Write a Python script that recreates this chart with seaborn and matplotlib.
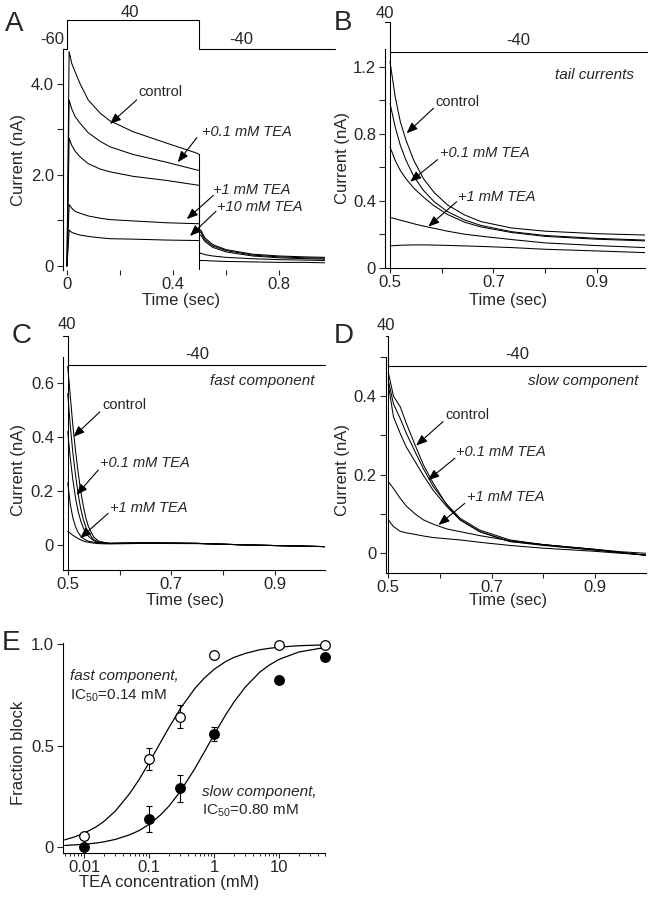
import numpy as np
import matplotlib
matplotlib.use("Agg")
import matplotlib.pyplot as plt
import matplotlib.transforms as mtransforms
from matplotlib.ticker import LogLocator, NullFormatter
import seaborn as sns

sns.set_style("ticks")
plt.rcParams["font.family"] = ["Liberation Sans", "DejaVu Sans"]
plt.rcParams["mathtext.fontset"] = "custom"
plt.rcParams["mathtext.rm"] = "Liberation Sans"

# ---------------- data ----------------
pulse_start = 0.0
pulse_end = 0.5
conditions = ["control", "+0.1 mM TEA", "+0.3 mM TEA", "+1 mM TEA", "+10 mM TEA"]

# A: currents during the +40 mV step (nA)
A_step_t = [0.0, 0.008, 0.018, 0.031, 0.049, 0.08, 0.125, 0.162, 0.25, 0.376, 0.49, 0.5]
A_step = {
    "control":     [0, 4.71, 4.45, 4.26, 4.01, 3.65, 3.36, 3.19, 2.95, 2.70, 2.48, 2.45],
    "+0.1 mM TEA": [0, 3.65, 3.45, 3.28, 3.14, 2.93, 2.74, 2.62, 2.45, 2.28, 2.11, 2.10],
    "+0.3 mM TEA": [0, 2.81, 2.65, 2.52, 2.40, 2.25, 2.13, 2.07, 1.97, 1.88, 1.78, 1.77],
    "+1 mM TEA":   [0, 1.35, 1.27, 1.20, 1.16, 1.10, 1.05, 1.02, 0.99, 0.95, 0.93, 0.93],
    "+10 mM TEA":  [0, 0.79, 0.74, 0.71, 0.68, 0.65, 0.62, 0.60, 0.59, 0.57, 0.56, 0.56],
}
# A: tail currents at -40 mV (nA)
A_tail_t = [0.5, 0.505, 0.52, 0.55, 0.6, 0.7, 0.8, 0.9, 0.975]
A_tail = {
    "control":     [0.79, 0.79, 0.62, 0.47, 0.36, 0.26, 0.22, 0.20, 0.19],
    "+0.1 mM TEA": [0.74, 0.74, 0.58, 0.44, 0.34, 0.24, 0.20, 0.18, 0.17],
    "+0.3 mM TEA": [0.68, 0.68, 0.54, 0.41, 0.31, 0.22, 0.18, 0.16, 0.15],
    "+1 mM TEA":   [0.28, 0.28, 0.25, 0.22, 0.19, 0.16, 0.14, 0.13, 0.12],
    "+10 mM TEA":  [0.12, 0.12, 0.12, 0.11, 0.10, 0.09, 0.08, 0.08, 0.07],
}

# B: tail currents, expanded
B_t = [0.5, 0.51, 0.52, 0.531, 0.546, 0.565, 0.585, 0.611, 0.644, 0.676, 0.735, 0.8, 0.9, 0.993]
B_tail = {
    "control":     [1.23, 1.02, 0.87, 0.76, 0.64, 0.53, 0.45, 0.375, 0.315, 0.275, 0.237, 0.218, 0.203, 0.195],
    "+0.1 mM TEA": [0.98, 0.84, 0.73, 0.64, 0.545, 0.46, 0.395, 0.335, 0.285, 0.252, 0.215, 0.192, 0.175, 0.165],
    "+0.3 mM TEA": [0.72, 0.64, 0.58, 0.53, 0.475, 0.42, 0.37, 0.318, 0.272, 0.243, 0.21, 0.187, 0.17, 0.16],
    "+1 mM TEA":   [0.30, 0.292, 0.283, 0.275, 0.262, 0.248, 0.235, 0.218, 0.20, 0.188, 0.168, 0.148, 0.132, 0.12],
    "+10 mM TEA":  [0.13, 0.132, 0.134, 0.135, 0.136, 0.136, 0.135, 0.133, 0.13, 0.127, 0.12, 0.11, 0.10, 0.09],
}

# C: fast component
C_t = [0.5, 0.505, 0.51, 0.515, 0.52, 0.525, 0.53, 0.535, 0.54, 0.55, 0.56, 0.58, 0.65, 0.75, 0.85, 0.95, 0.997]
C_fast = {
    "control":     [0.66, 0.55, 0.44, 0.35, 0.27, 0.20, 0.145, 0.10, 0.068, 0.03, 0.014, 0.006, 0.008, 0.006, 0.0, -0.004, -0.006],
    "+0.1 mM TEA": [0.56, 0.44, 0.34, 0.26, 0.19, 0.135, 0.095, 0.066, 0.045, 0.02, 0.01, 0.006, 0.008, 0.006, 0.0, -0.004, -0.006],
    "+0.3 mM TEA": [0.42, 0.32, 0.24, 0.175, 0.125, 0.09, 0.064, 0.045, 0.032, 0.016, 0.009, 0.006, 0.008, 0.006, 0.0, -0.004, -0.006],
    "+1 mM TEA":   [0.23, 0.15, 0.10, 0.068, 0.047, 0.033, 0.024, 0.018, 0.014, 0.01, 0.008, 0.006, 0.008, 0.006, 0.0, -0.004, -0.006],
    "+10 mM TEA":  [0.05, 0.043, 0.036, 0.03, 0.024, 0.019, 0.015, 0.012, 0.01, 0.007, 0.005, 0.004, 0.006, 0.005, 0.0, -0.004, -0.006],
}

# D: slow component
D_t = [0.5, 0.51, 0.523, 0.535, 0.552, 0.568, 0.587, 0.613, 0.639, 0.677, 0.735, 0.8, 0.85, 0.9, 0.95, 0.998]
D_slow = {
    "control":     [0.46, 0.40, 0.373, 0.33, 0.275, 0.225, 0.178, 0.123, 0.085, 0.055, 0.03, 0.022, 0.016, 0.01, 0.002, -0.005],
    "+0.1 mM TEA": [0.44, 0.38, 0.343, 0.305, 0.258, 0.215, 0.17, 0.125, 0.089, 0.059, 0.034, 0.022, 0.015, 0.009, 0.002, -0.005],
    "+0.3 mM TEA": [0.43, 0.347, 0.305, 0.27, 0.233, 0.198, 0.16, 0.119, 0.085, 0.055, 0.03, 0.02, 0.014, 0.008, 0.002, -0.005],
    "+1 mM TEA":   [0.182, 0.165, 0.14, 0.12, 0.10, 0.085, 0.074, 0.062, 0.055, 0.045, 0.032, 0.022, 0.016, 0.01, 0.004, 0.0],
    "+10 mM TEA":  [0.085, 0.068, 0.056, 0.052, 0.048, 0.044, 0.04, 0.037, 0.034, 0.028, 0.02, 0.013, 0.009, 0.005, 0.0, -0.004],
}

# E: dose-response
tea_mM = [0.01, 0.1, 0.3, 1, 10, 50]
fast_block = [0.053, 0.432, 0.643, 0.947, 0.997, 0.997]
fast_err = [0.0, 0.055, 0.055, 0.02, 0.0, 0.0]
slow_block = [0.0, 0.137, 0.288, 0.555, 0.824, 0.936]
slow_err = [0.0, 0.063, 0.066, 0.035, 0.0, 0.0]
fit_x = [0.005, 0.007, 0.01, 0.015, 0.02, 0.03, 0.05, 0.07, 0.1, 0.15, 0.2, 0.3,
         0.5, 0.7, 1, 1.5, 2, 3, 5, 7, 10, 20, 50]
fit_fast = [0.034, 0.048, 0.067, 0.097, 0.125, 0.176, 0.263, 0.333, 0.417, 0.517, 0.588, 0.682,
            0.781, 0.833, 0.877, 0.915, 0.935, 0.955, 0.973, 0.980, 0.986, 0.993, 0.997]
fit_slow = [0.006, 0.009, 0.012, 0.018, 0.024, 0.036, 0.059, 0.080, 0.111, 0.158, 0.200, 0.273,
            0.385, 0.467, 0.556, 0.652, 0.714, 0.789, 0.862, 0.897, 0.926, 0.962, 0.984]

# ---------------- figure ----------------
W, H = 656, 900
fig = plt.figure(figsize=(W / 100, H / 100), dpi=100)


def box(l, r, t, b):
    return [l / W, 1 - b / H, (r - l) / W, (b - t) / H]


def fpx(x, y):
    return x / W, 1 - y / H


LW = 0.75
TICK_FS = 12
LAB_FS = 12
ANN_FS = 10.5

axA = fig.add_axes(box(63, 325, 49, 270))
axB = fig.add_axes(box(385, 645, 49, 268.3))
axC = fig.add_axes(box(63, 325, 356.7, 570))
axD = fig.add_axes(box(385.7, 646, 356.7, 573.3))
axE = fig.add_axes(box(63, 325, 643, 852.7))

for ax in [axA, axB, axC, axD, axE]:
    sns.despine(ax=ax)
    ax.tick_params(axis="y", direction="out", length=4.5, width=0.8, pad=2.0, labelsize=TICK_FS)
    ax.tick_params(axis="x", direction="out", length=3.5, width=0.8, pad=1.5, labelsize=TICK_FS)
    for s in ["left", "bottom"]:
        ax.spines[s].set_linewidth(0.8)
        ax.spines[s].set_color("k")
    ax.set_facecolor("none")


def trace(ax, t, y):
    sns.lineplot(x=np.asarray(t, float), y=np.asarray(y, float), ax=ax, color="k",
                 lw=LW, estimator=None, sort=False, legend=False)


def arrow(ax, start, tip):
    ax.annotate("", xy=tip, xytext=start,
                arrowprops=dict(arrowstyle="-|>,head_length=0.55,head_width=0.22",
                                color="k", lw=0.8, shrinkA=0, shrinkB=0,
                                mutation_scale=12), annotation_clip=False)


def protocol(ax, xs, ys):
    tr = mtransforms.blended_transform_factory(ax.transData, ax.transAxes)
    ax.plot(xs, ys, color="k", lw=0.8, transform=tr, clip_on=False)


def ptext(ax, x, y, s, **kw):
    tr = mtransforms.blended_transform_factory(ax.transData, ax.transAxes)
    ax.text(x, y, s, transform=tr, ha="center", va="center", fontsize=12, **kw)


# ---- A ----
for c in conditions:
    trace(axA, A_step_t + A_tail_t, A_step[c] + A_tail[c])
axA.vlines(pulse_end, -0.088, A_step["control"][-1], color="k", lw=LW)
axA.set_xlim(-0.0151, 0.9736)
axA.set_ylim(-0.088, 4.769)
axA.spines["bottom"].set_visible(False)
axA.set_xticks([0, 0.2, 0.4, 0.6, 0.8])
axA.set_xticklabels(["0", "", "0.4", "", "0.8"])
axA.set_yticks([0, 1, 2, 3, 4])
axA.set_yticklabels(["0", "", "2.0", "", "4.0"])
protocol(axA, [-0.0151, pulse_start, pulse_start, pulse_end, pulse_end, 1.011],
         [1.0, 1.0, 1.129, 1.129, 1.0, 1.0])
ptext(axA, 0.238, 1.167, "40")
ptext(axA, -0.057, 1.045, "-60")
ptext(axA, 0.657, 1.045, "-40")
axA.text(0.268, 3.83, "control", fontsize=ANN_FS, va="center")
arrow(axA, (0.263, 3.65), (0.162, 3.12))
axA.text(0.508, 2.95, "+0.1 mM TEA", fontsize=ANN_FS, va="center", style="italic")
arrow(axA, (0.49, 2.82), (0.418, 2.28))
axA.text(0.551, 1.67, "+1 mM TEA", fontsize=ANN_FS, va="center", style="italic")
arrow(axA, (0.552, 1.55), (0.452, 1.03))
axA.text(0.565, 1.30, "+10 mM TEA", fontsize=ANN_FS, va="center", style="italic")
arrow(axA, (0.562, 1.20), (0.464, 0.66))

# ---- B ----
for c in conditions:
    trace(axB, B_t, B_tail[c])
axB.axvline(pulse_end, color="k", lw=LW)
axB.set_xlim(0.4903, 0.9932)
axB.set_ylim(-0.0036, 1.305)
axB.set_xticks([0.5, 0.6, 0.7, 0.8, 0.9])
axB.set_xticklabels(["0.5", "", "0.7", "", "0.9"])
axB.set_yticks([0, 0.2, 0.4, 0.6, 0.8, 1.0, 1.2])
axB.set_yticklabels(["0", "", "0.4", "", "0.8", "", "1.2"])
protocol(axB, [0.4903, pulse_end, pulse_end, 0.9965], [1.125, 1.125, 0.988, 0.988])
ptext(axB, 0.490, 1.16, "40")
ptext(axB, 0.748, 1.041, "-40")
axB.text(0.971, 1.15, "tail currents", fontsize=11, va="center", ha="right", style="italic")
axB.text(0.587, 0.991, "control", fontsize=ANN_FS, va="center")
arrow(axB, (0.584, 0.951), (0.532, 0.802))
axB.text(0.597, 0.683, "+0.1 mM TEA", fontsize=ANN_FS, va="center", style="italic")
arrow(axB, (0.592, 0.645), (0.539, 0.513))
axB.text(0.632, 0.424, "+1 mM TEA", fontsize=ANN_FS, va="center", style="italic")
arrow(axB, (0.629, 0.394), (0.574, 0.245))

# ---- C ----
for c in conditions:
    trace(axC, C_t, C_fast[c])
axC.axvline(pulse_end, color="k", lw=LW)
axC.set_xlim(0.4909, 0.9967)
axC.set_ylim(-0.0924, 0.696)
axC.set_xticks([0.5, 0.6, 0.7, 0.8, 0.9])
axC.set_xticklabels(["0.5", "", "0.7", "", "0.9"])
axC.set_yticks([0, 0.2, 0.4, 0.6])
axC.set_yticklabels(["0", "0.2", "0.4", "0.6"])
protocol(axC, [0.4909, pulse_end, pulse_end, 0.9967], [1.097, 1.097, 0.961, 0.961])
ptext(axC, 0.4987, 1.149, "40")
ptext(axC, 0.75, 1.008, "-40")
axC.text(0.977, 0.607, "fast component", fontsize=11, va="center", ha="right", style="italic")
axC.text(0.566, 0.517, "control", fontsize=ANN_FS, va="center")
arrow(axC, (0.562, 0.492), (0.511, 0.40))
axC.text(0.562, 0.302, "+0.1 mM TEA", fontsize=ANN_FS, va="center", style="italic")
arrow(axC, (0.559, 0.277), (0.517, 0.185))
axC.text(0.582, 0.135, "+1 mM TEA", fontsize=ANN_FS, va="center", style="italic")
arrow(axC, (0.578, 0.117), (0.524, 0.025))

# ---- D ----
for c in conditions:
    trace(axD, D_t, D_slow[c])
axD.axvline(pulse_end, color="k", lw=LW)
axD.set_xlim(0.4950, 0.9988)
axD.set_ylim(-0.0509, 0.50)
axD.set_xticks([0.5, 0.6, 0.7, 0.8, 0.9])
axD.set_xticklabels(["0.5", "", "0.7", "", "0.9"])
axD.set_yticks([0, 0.1, 0.2, 0.3, 0.4, 0.5])
axD.set_yticklabels(["0", "", "0.2", "", "0.4", ""])
protocol(axD, [0.4950, pulse_end, pulse_end, 0.9988], [1.0955, 1.0955, 0.957, 0.957])
ptext(axD, 0.4955, 1.146, "40")
ptext(axD, 0.749, 1.008, "-40")
axD.text(0.984, 0.439, "slow component", fontsize=11, va="center", ha="right", style="italic")
axD.text(0.61, 0.352, "control", fontsize=ANN_FS, va="center")
arrow(axD, (0.606, 0.335), (0.554, 0.274))
axD.text(0.632, 0.258, "+0.1 mM TEA", fontsize=ANN_FS, va="center", style="italic")
arrow(axD, (0.629, 0.242), (0.577, 0.186))
axD.text(0.652, 0.144, "+1 mM TEA", fontsize=ANN_FS, va="center", style="italic")
arrow(axD, (0.648, 0.127), (0.597, 0.072))

# ---- E ----
axE.set_xscale("log")
sns.lineplot(x=fit_x, y=fit_fast, ax=axE, color="k", lw=0.9, estimator=None, sort=False)
sns.lineplot(x=fit_x, y=fit_slow, ax=axE, color="k", lw=0.9, estimator=None, sort=False)
axE.errorbar(tea_mM, fast_block, yerr=fast_err, fmt="none", ecolor="k", elinewidth=0.8,
             capsize=2, capthick=0.8, zorder=3)
axE.errorbar(tea_mM, slow_block, yerr=slow_err, fmt="none", ecolor="k", elinewidth=0.8,
             capsize=2, capthick=0.8, zorder=3)
sns.scatterplot(x=tea_mM, y=fast_block, ax=axE, s=48, color="white", edgecolor="k",
                linewidth=0.9, zorder=4, clip_on=False)
sns.scatterplot(x=tea_mM, y=slow_block, ax=axE, s=48, color="k", edgecolor="k",
                linewidth=0.9, zorder=4, clip_on=False)
axE.set_xlim(0.0047, 50.5)
axE.set_ylim(-0.0296, 1.0064)
axE.set_xticks([0.01, 0.1, 1, 10])
axE.set_xticklabels(["0.01", "0.1", "1", "10"])
axE.xaxis.set_minor_locator(LogLocator(base=10, subs=np.arange(2, 10)))
axE.xaxis.set_minor_formatter(NullFormatter())
axE.tick_params(axis="x", which="minor", direction="out", length=2.2, width=0.7)
axE.set_yticks([0, 0.5, 1.0])
axE.set_yticklabels(["0", "0.5", "1.0"])
axE.text(0.006, 0.845, "fast component,", fontsize=11, va="center", style="italic")
axE.text(0.006, 0.745, "IC$_\\mathregular{50}$=0.14 mM", fontsize=11, va="center")
axE.text(0.65, 0.27, "slow component,", fontsize=11, va="center", style="italic")
axE.text(0.65, 0.18, "IC$_\\mathregular{50}$=0.80 mM", fontsize=11, va="center")

# ---- axis labels & panel letters (figure coords) ----
for x, y in [(19, 160), (343, 158), (19, 470), (343, 470)]:
    fig.text(*fpx(x, y), "Current (nA)", rotation=90, ha="center", va="center", fontsize=LAB_FS)
fig.text(*fpx(19, 753), "Fraction block", rotation=90, ha="center", va="center", fontsize=LAB_FS)
for x, y in [(181, 301), (508, 301), (185, 601), (508, 601)]:
    fig.text(*fpx(x, y), "Time (sec)", ha="center", va="center", fontsize=LAB_FS)
fig.text(*fpx(169, 882), "TEA concentration (mM)", ha="center", va="center", fontsize=LAB_FS)

for s, x, y in [("A", 5, 24), ("B", 334, 23), ("C", 12, 336), ("D", 334, 336), ("E", 2, 643)]:
    fig.text(*fpx(x, y), s, ha="left", va="center", fontsize=20)

fig.savefig("out.png", dpi=100)
